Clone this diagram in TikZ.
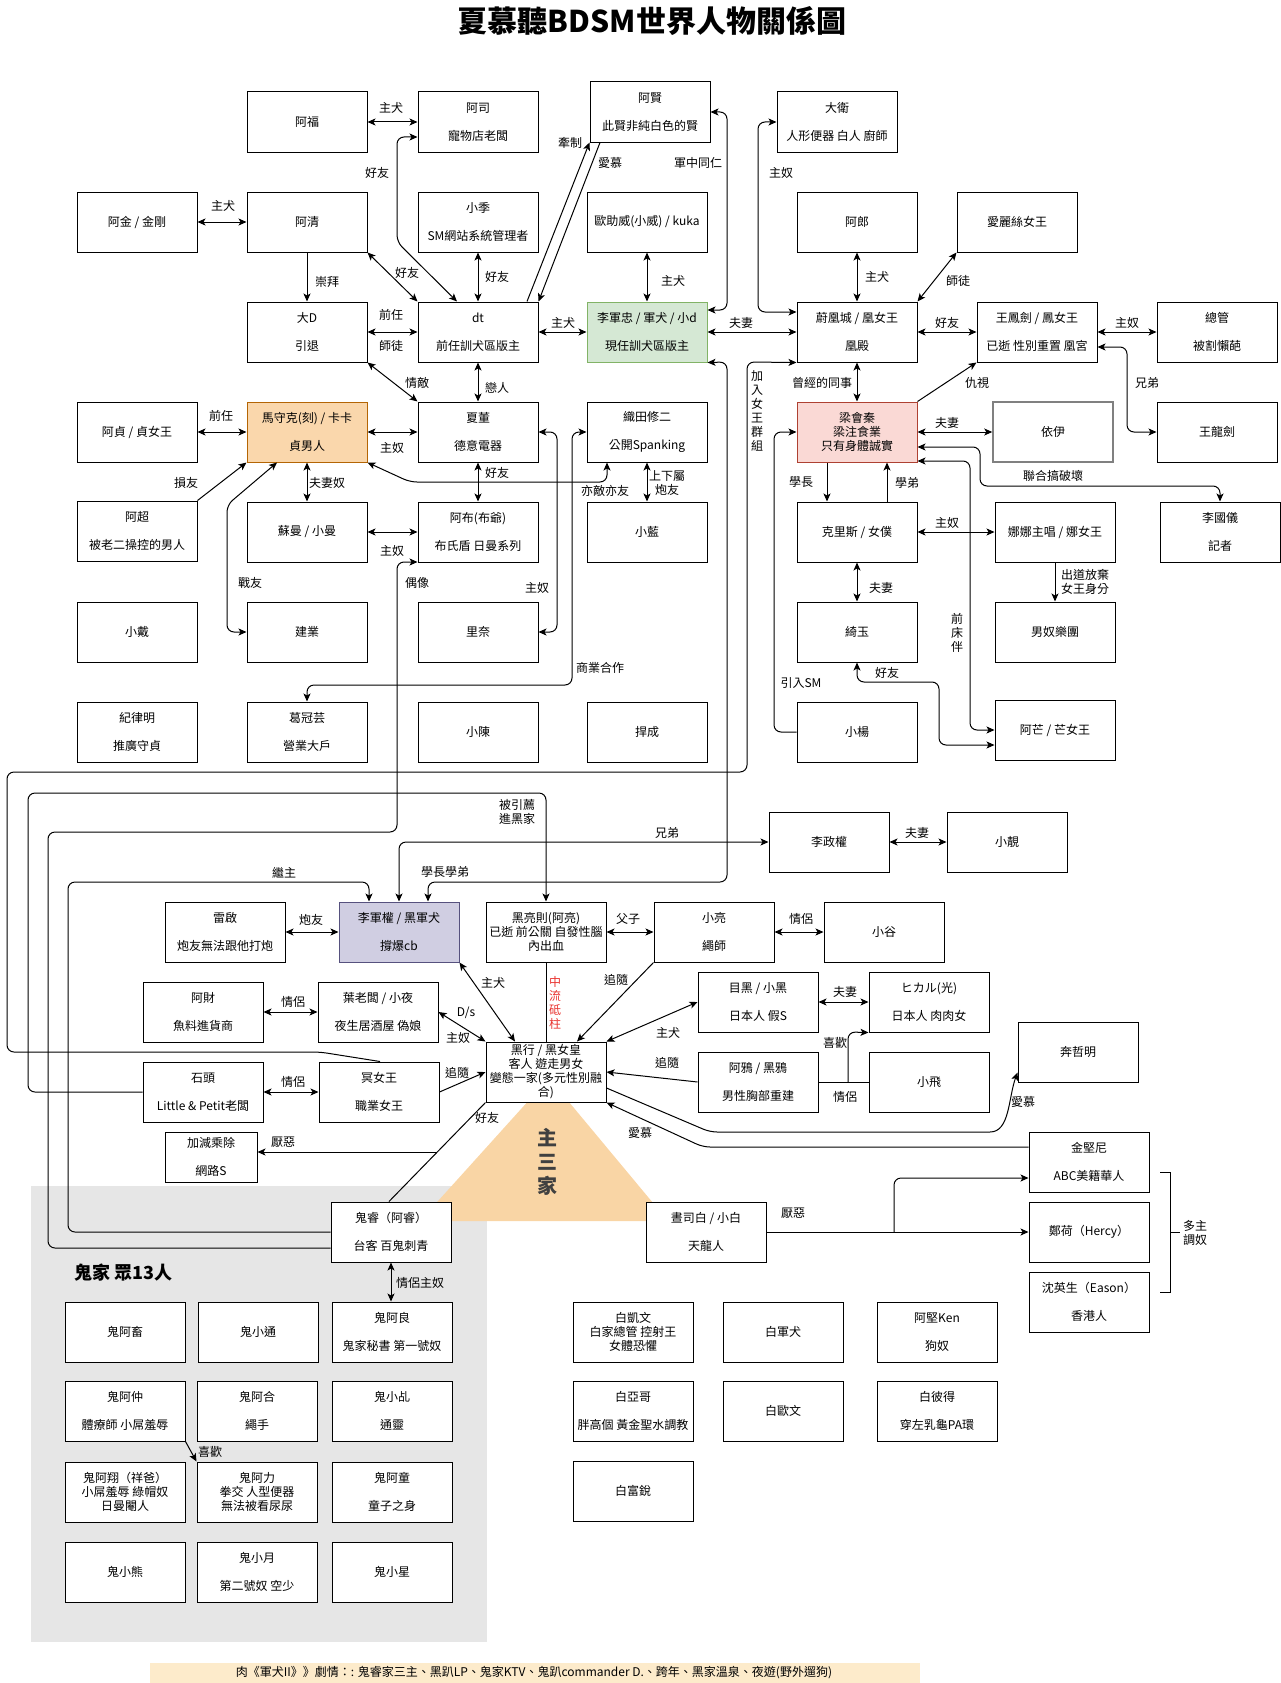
\documentclass[tikz,border=0pt]{standalone}
\usepackage{fontspec}
\setmainfont{Noto Sans CJK TC}
\usetikzlibrary{arrows.meta}
\definecolor{gfill}{HTML}{D5E8D4}\definecolor{gstroke}{HTML}{82B366}
\definecolor{ofill}{HTML}{FAD7AC}\definecolor{ostroke}{HTML}{B46504}
\definecolor{pfill}{HTML}{FAD9D5}\definecolor{pstroke}{HTML}{AE4132}
\definecolor{ufill}{HTML}{D0CEE2}\definecolor{ustroke}{HTML}{56517E}
\definecolor{bggray}{HTML}{E6E6E6}
\definecolor{trifill}{HTML}{F9D5A5}
\definecolor{footc}{HTML}{FDEBCB}
\definecolor{redlab}{HTML}{E8302C}
\newcounter{lbc}
\newcommand\mylbl[4][]{\stepcounter{lbc}\node[lab,#1] (lbl\arabic{lbc}) at (#2,#3) {#4};}
\tikzset{
  box/.style={draw, fill=white, line width=1pt, minimum width=120pt, minimum height=60pt, inner sep=1pt, align=center, font=\fontsize{12}{28}\selectfont},
  tbox/.style={box, font=\fontsize{12}{14}\selectfont},
  gbox/.style={fill=gfill, draw=gstroke},
  obox/.style={fill=ofill, draw=ostroke},
  pbox/.style={fill=pfill, draw=pstroke},
  ubox/.style={fill=ufill, draw=ustroke},
  lab/.style={font=\fontsize{12}{14}\selectfont, inner sep=0pt, align=center},
  arr/.style={-{Stealth[length=8pt,width=7pt,inset=2pt]}},
  darr/.style={{Stealth[length=8pt,width=7pt,inset=2pt]}-{Stealth[length=8pt,width=7pt,inset=2pt]}},
  rc/.style={rounded corners=7pt},
}
\begin{document}
\begin{tikzpicture}[x=1pt,y=-1pt,line width=1pt]
\useasboundingbox (0,0) rectangle (1281,1683);
% backgrounds
\fill[bggray] (31,1186) rectangle (487,1642);
\fill[trifill] (549,1078) -- (420,1221) -- (668,1221) -- cycle;
\fill[footc] (150,1663) rectangle (920,1690);
\node[font=\fontsize{12}{14}\selectfont, inner sep=0pt] (footer) at (534,1673) {肉《軍犬II》》劇情：: 鬼睿家三主、黑趴LP、鬼家KTV、鬼趴commander D.、跨年、黑家溫泉、夜遊(野外遛狗)};
\node[font=\fontsize{30}{32}\selectfont\bfseries, inner sep=0pt] (title) at (652,21) {夏慕聽BDSM世界人物關係圖};
\node[font=\fontsize{20}{24}\selectfont\bfseries, text=black!75, align=center, inner sep=0pt] (zsj) at (547,1162) {主\\三\\家};
\node[font=\fontsize{18}{20}\selectfont\bfseries, anchor=west, inner sep=0pt] (gjtitle) at (74,1273) {鬼家 眾13人};

% nodes
\node[box] (afu) at (307,122) {阿福};
\node[box] (asi) at (478,122) {阿司\\寵物店老闆};
\node[box] (axian) at (650,112) {阿賢\\此賢非純白色的賢};
\node[box] (dawei) at (837,122) {大衛\\人形便器 白人 廚師};
\node[box] (ajin) at (137,222) {阿金 / 金剛};
\node[box] (aqing) at (307,222) {阿清};
\node[box] (xiaoji) at (478,222) {小季\\SM網站系統管理者};
\node[box] (ouzhu) at (647,222) {歐助威(小威) / kuka};
\node[box] (alang) at (857,222) {阿郎};
\node[box] (alice) at (1017,222) {愛麗絲女王};
\node[box] (dad) at (307,332) {大D\\引退};
\node[box] (dt) at (478,332) {dt\\前任訓犬區版主};
\node[box, gbox] (ljz) at (647,332) {李軍忠 / 軍犬 / 小d\\現任訓犬區版主};
\node[box] (wfc) at (857,332) {蔚凰城 / 凰女王\\凰殿};
\node[box] (wfj) at (1037,332) {王鳳劍 / 鳳女王\\已逝 性別重置 凰宮};
\node[box] (zongguan) at (1217,332) {總管\\被割懶葩};
\node[box] (azhen) at (137,432) {阿貞 / 貞女王};
\node[box, obox] (mask) at (307,432) {馬守克(刻) / 卡卡\\貞男人};
\node[box] (xiadong) at (478,432) {夏董\\德意電器};
\node[box] (zhitian) at (647,432) {織田修二\\公開Spanking};
\node[tbox, pbox] (liang) at (857,432) {梁會秦\\梁注食業\\只有身體誠實};
\node[box, draw=black!50, line width=1.5pt] (yiyi) at (1053,432) {依伊};
\node[box] (wlj) at (1217,432) {王龍劍};
\node[box] (achao) at (137,531) {阿超\\被老二操控的男人};
\node[box] (suman) at (307,532) {蘇曼 / 小曼};
\node[box] (abu) at (478,532) {阿布(布爺)\\布氏盾 日曼系列};
\node[box] (xiaolan) at (647,532) {小藍};
\node[box] (chris) at (857,532) {克里斯 / 女僕};
\node[box] (nana) at (1055,532) {娜娜主唱 / 娜女王};
\node[box] (lgy) at (1220,532) {李國儀\\記者};
\node[box] (xiaodai) at (137,632) {小戴};
\node[box] (jianye) at (307,632) {建業};
\node[box] (linai) at (478,632) {里奈};
\node[box] (qiyu) at (857,632) {綺玉};
\node[box] (nannu) at (1055,632) {男奴樂團};
\node[box] (jilm) at (137,732) {紀律明\\推廣守貞};
\node[box] (ggy) at (307,732) {葛冠芸\\營業大戶};
\node[box] (xiaochen) at (478,732) {小陳};
\node[box] (hancheng) at (647,732) {捍成};
\node[box] (xiaoyang) at (857,732) {小楊};
\node[box] (amang) at (1055,730) {阿芒 / 芒女王};
\node[box] (lzq) at (829,842) {李政權};
\node[box] (xiaojing) at (1007,842) {小靚};
\node[box] (leiqi) at (225,932) {雷啟\\炮友無法跟他打炮};
\node[box, ubox] (ljq) at (399,932) {李軍權 / 黑軍犬\\撐爆cb};
\node[tbox] (hlz) at (546,932) {黑亮則(阿亮)\\已逝 前公關 自發性腦\\內出血};
\node[box] (xiaoliang) at (714,932) {小亮\\繩師};
\node[box] (xiaogu) at (884,932) {小谷};
\node[box] (acai) at (203,1012) {阿財\\魚料進貨商};
\node[box] (ye) at (378,1012) {葉老闆 / 小夜\\夜生居酒屋 偽娘};
\node[box] (muhei) at (758,1002) {目黑 / 小黑\\日本人 假S};
\node[box] (hikaru) at (929,1002) {ヒカル(光)\\日本人 肉肉女};
\node[box] (benzm) at (1078,1052) {奔哲明};
\node[box] (shitou) at (203,1092) {石頭\\Little \& Petit老闆};
\node[box] (mingnv) at (379,1092) {冥女王\\職業女王};
\node[tbox] (heihang) at (546,1072) {黑行 / 黑女皇\\客人 遊走男女\\變態一家(多元性別融\\合)};
\node[box] (aya) at (758,1082) {阿鴉 / 黑鴉\\男性胸部重建};
\node[box] (xiaofei) at (929,1082) {小飛};
\node[box] (jjn) at (1089,1162) {金堅尼\\ABC美籍華人};
\node[box] (zhenghe) at (1089,1232) {鄭荷（Hercy）};
\node[box] (shen) at (1089,1302) {沈英生（Eason）\\香港人};
\node[box, minimum width=92pt, minimum height=50pt] (jjcc) at (211,1157) {加減乘除\\網路S};
\node[box] (guirui) at (391,1232) {鬼睿（阿睿）\\台客 百鬼刺青};
\node[box] (zhousibai) at (706,1232) {晝司白 / 小白\\天龍人};
% ghost family
\node[box] (guichu) at (125,1332) {鬼阿畜};
\node[box] (guixt) at (258,1332) {鬼小通};
\node[box] (guiliang) at (392,1332) {鬼阿良\\鬼家秘書 第一號奴};
\node[box] (guizhong) at (125,1411) {鬼阿仲\\體療師 小屌羞辱};
\node[box] (guihe) at (257,1411) {鬼阿合\\繩手};
\node[box] (guiji) at (392,1411) {鬼小乩\\通靈};
\node[tbox] (guixiang) at (125,1492) {鬼阿翔（祥爸）\\小屌羞辱 綠帽奴\\日曼閹人};
\node[tbox] (guili) at (257,1492) {鬼阿力\\拳交 人型便器\\無法被看尿尿};
\node[box] (guitong) at (392,1492) {鬼阿童\\童子之身};
\node[box] (guixiong) at (125,1572) {鬼小熊};
\node[box] (guiyue) at (257,1572) {鬼小月\\第二號奴 空少};
\node[box] (guixing) at (392,1572) {鬼小星};
% white family
\node[tbox] (baikw) at (633,1332) {白凱文\\白家總管 控射王\\女體恐懼};
\node[box] (baijq) at (783,1332) {白軍犬};
\node[box] (aken) at (937,1332) {阿堅Ken\\狗奴};
\node[box] (baiyg) at (633,1411) {白亞哥\\胖高個 黃金聖水調教};
\node[box] (baiow) at (783,1411) {白歐文};
\node[box] (baibd) at (937,1411) {白彼得\\穿左乳龜PA環};
\node[box] (baifr) at (633,1491) {白富銳};

% connectors
\draw[darr] (afu) -- (asi); \mylbl{391}{108}{主犬}
\draw[darr,rc] ([xshift=-21]dt.north) -- (397,242) -- (397,137) -- ([yshift=-15]asi.west); \mylbl{377}{173}{好友}
\draw[darr] (ajin) -- (aqing); \mylbl{223}{206}{主犬}
\draw[arr] (aqing) -- (dad); \mylbl{327}{282}{崇拜}
\draw[darr] (aqing.south east) -- (dt.north west); \mylbl{407}{273}{好友}
\draw[darr] (xiaoji) -- (dt); \mylbl{497}{277}{好友}
\draw[darr] (dad) -- (dt); \mylbl{391}{315}{前任} \mylbl{391}{346}{師徒}
\draw[darr] (dad.south east) -- (xiadong.north west); \mylbl{417}{383}{情敵}
\draw[darr] (dt) -- (xiadong); \mylbl{497}{388}{戀人}
\draw[darr] (dt) -- (ljz); \mylbl{563}{323}{主犬}
\draw[arr] ([xshift=49]dt.north) -- (axian.south west); \mylbl{570}{143}{牽制}
\draw[arr] ([xshift=-50]axian.south) -- (dt.north east); \mylbl{610}{163}{愛慕}
\draw[darr,rc] (axian.east) -- (727,112) -- (727,310) -- ([yshift=22]ljz.east); \mylbl{698}{163}{軍中同仁}
\draw[darr] (ouzhu) -- (ljz); \mylbl{673}{281}{主犬}
\draw[darr] (ljz) -- (wfc); \mylbl{741}{323}{夫妻}
\draw[darr,rc] (dawei.west) -- (758,122) -- (758,312) -- ([yshift=20]wfc.west); \mylbl{781}{173}{主奴}
\draw[darr] (alang) -- (wfc); \mylbl{877}{277}{主犬}
\draw[darr] (alice.south west) -- (wfc.north east); \mylbl{958}{281}{師徒}
\draw[darr] (wfc) -- (wfj); \mylbl{947}{323}{好友}
\draw[darr] (wfj) -- (zongguan); \mylbl{1127}{323}{主奴}
\draw[darr,rc] ([yshift=-15]wfj.east) -- (1127,347) -- (1127,432) -- (wlj.west); \mylbl{1147}{383}{兄弟}
\draw[arr] (liang.north east) -- (wfj.south west); \mylbl{977}{383}{仇視}
\draw[darr] (wfc) -- (liang); \mylbl{822}{383}{曾經的同事}
\draw[arr,rc] ([xshift=1]mingnv.north) -- (320,1052) -- (7,1052) -- (7,772) -- (747,772) -- (747,362) -- (wfc.south west);
\mylbl{757}{411}{加\\入\\女\\王\\群\\組}
\draw[darr,rc] (ljz.south east) -- (727,362) -- (727,882) -- (428,882) -- ([xshift=29]ljq.north); \mylbl{445}{872}{學長學弟}
\draw[arr,rc] (guirui.west) -- (68,1232) -- (68,882) -- (369,882) -- ([xshift=-30]ljq.north); \mylbl{284}{873}{繼主}
\draw[darr,rc] (ljq.north) -- (399,842) -- (lzq.west); \mylbl{667}{833}{兄弟}
\draw[arr,rc] (shitou.west) -- (28,1092) -- (28,793) -- (546,793) -- (hlz.north); \mylbl{517}{812}{被引薦\\進黑家}
\draw[arr,rc] ([yshift=-16]guirui.west) -- (48,1248) -- (48,832) -- (397,832) -- (397,562) -- ([yshift=-30]abu.west); \mylbl{417}{583}{偶像}
\draw[darr] (azhen) -- (mask); \mylbl{221}{416}{前任}
\draw[darr] (mask) -- (xiadong); \mylbl{392}{448}{主奴}
\draw[arr] (achao.north east) -- (mask.south west); \mylbl{186}{483}{損友}
\draw[darr,rc] (jianye.west) -- (227,632) -- (227,505) -- ([xshift=-30]mask.south); \mylbl{250}{583}{戰友}
\draw[darr] (mask) -- (suman); \mylbl{327}{483}{夫妻奴}
\draw[darr,rc=10pt] (mask.south east) -- (410,482) -- (607,482) -- ([xshift=-40]zhitian.south); \mylbl{605}{491}{亦敵亦友}
\draw[darr] (xiadong) -- (abu); \mylbl{497}{473}{好友}
\draw[darr] (suman) -- (abu); \mylbl{392}{551}{主奴}
\draw[darr] (zhitian) -- (xiaolan); \mylbl{667}{483}{上下屬\\炮友}
\draw[darr,rc] (xiadong.east) -- (557,432) -- (557,632) -- (linai.east); \mylbl{537}{588}{主奴}
\draw[darr,rc] (zhitian.west) -- (572,432) -- (572,685) -- (307,685) -- (ggy.north); \mylbl{600}{668}{商業合作}
\draw[darr] (liang) -- (yiyi); \mylbl{947}{423}{夫妻}
\draw[darr,rc] ([yshift=-15]liang.east) -- (980,447) -- (980,486) -- (1220,486) -- (lgy.north); \mylbl{1053}{476}{聯合搞破壞}
\draw[darr,rc] ([yshift=-29]liang.east) -- (970,461) -- (970,730) -- (amang.west); \mylbl{957}{633}{前\\床\\伴}
\draw[arr] ([xshift=-30]liang.south) -- ([xshift=-30]chris.north); \mylbl{801}{482}{學長}
\draw[arr] ([xshift=30]chris.north) -- ([xshift=30]liang.south); \mylbl{907}{483}{學弟}
\draw[darr] (chris) -- (nana); \mylbl{947}{523}{主奴}
\draw[arr] (nana) -- (nannu); \mylbl{1085}{582}{出道放棄\\女王身分}
\draw[darr] (chris) -- (qiyu); \mylbl{881}{588}{夫妻}
\draw[darr,rc] (qiyu.south) -- (857,682) -- (939,682) -- (939,745) -- ([yshift=-15]amang.west); \mylbl{887}{673}{好友}
\draw[arr,rc] (xiaoyang.west) -- (774,732) -- (774,432) -- (liang.west); \mylbl{801}{683}{引入SM}
\draw[darr] (leiqi) -- (ljq); \mylbl{311}{920}{炮友}
\draw[darr] (hlz) -- (xiaoliang); \mylbl{628}{919}{父子}
\draw[darr] (xiaoliang) -- (xiaogu); \mylbl{801}{919}{情侶}
\draw[darr] (ljq.south east) -- ([xshift=-31]heihang.north); \mylbl{493}{983}{主犬}
\draw (hlz.south) -- (heihang.north); \mylbl[text=redlab]{555}{1003}{中\\流\\砥\\柱}
\draw[arr] (xiaoliang.south west) -- ([xshift=31]heihang.north); \mylbl{616}{980}{追隨}
\draw[darr] (muhei.west) -- (heihang.north east); \mylbl{668}{1033}{主犬}
\draw[darr] (muhei) -- (hikaru); \mylbl{845}{992}{夫妻}
\draw[arr] (aya.west) -- (heihang.east); \mylbl{667}{1063}{追隨}
\draw (aya) -- (xiaofei); \mylbl{845}{1097}{情侶}
\coordinate (xk) at (848,1082);
\draw[arr,rc] (xk) -- (848,1032) -- (hikaru.south west); \mylbl{835}{1043}{喜歡}
\draw[arr,rc] ([yshift=-16]heihang.east) -- (710,1132) -- (983,1132) to[out=0,in=-110] ([yshift=10]benzm.south west); \mylbl{1023}{1102}{愛慕}
\draw[arr,rc] ([yshift=15]jjn.west) -- (703,1147) -- (heihang.south east); \mylbl{640}{1133}{愛慕}
\draw[arr] (mingnv.east) -- (heihang.west); \mylbl{457}{1073}{追隨}
\draw[darr] (ye.east) -- (heihang.north west); \mylbl{466}{1013}{D/s} \mylbl{458}{1038}{主奴}
\draw[darr] (acai) -- (ye); \mylbl{293}{1002}{情侶}
\draw[darr] (shitou) -- (mingnv); \mylbl{293}{1082}{情侶}
\coordinate (hy) at (437,1152);
\draw[arr] (hy) -- ([yshift=5]jjcc.east); \mylbl{283}{1142}{厭惡}
\draw (heihang.south west) -- ([xshift=-2]guirui.north); \mylbl{487}{1118}{好友}
\draw[arr] (zhousibai.east) -- (zhenghe.west); \mylbl{793}{1213}{厭惡}
\coordinate (zs) at (894,1232);
\draw[arr,rc] (zs) -- (894,1178) -- ([yshift=-16]jjn.west);
\draw[darr] (lzq) -- (xiaojing); \mylbl{917}{833}{夫妻}
\draw[darr] (guirui.south) -- (guirui.south |- guiliang.north); \mylbl{420}{1283}{情侶主奴}
\draw[arr] (guizhong.south east) -- (guili.north west); \mylbl{210}{1452}{喜歡}
% bracket
\draw (1160,1172) -- (1170,1172) -- (1170,1292) -- (1160,1292);
\draw (1170,1232) -- (1180,1232);
\mylbl{1195}{1233}{多主\\調奴}
\end{tikzpicture}
\end{document}
